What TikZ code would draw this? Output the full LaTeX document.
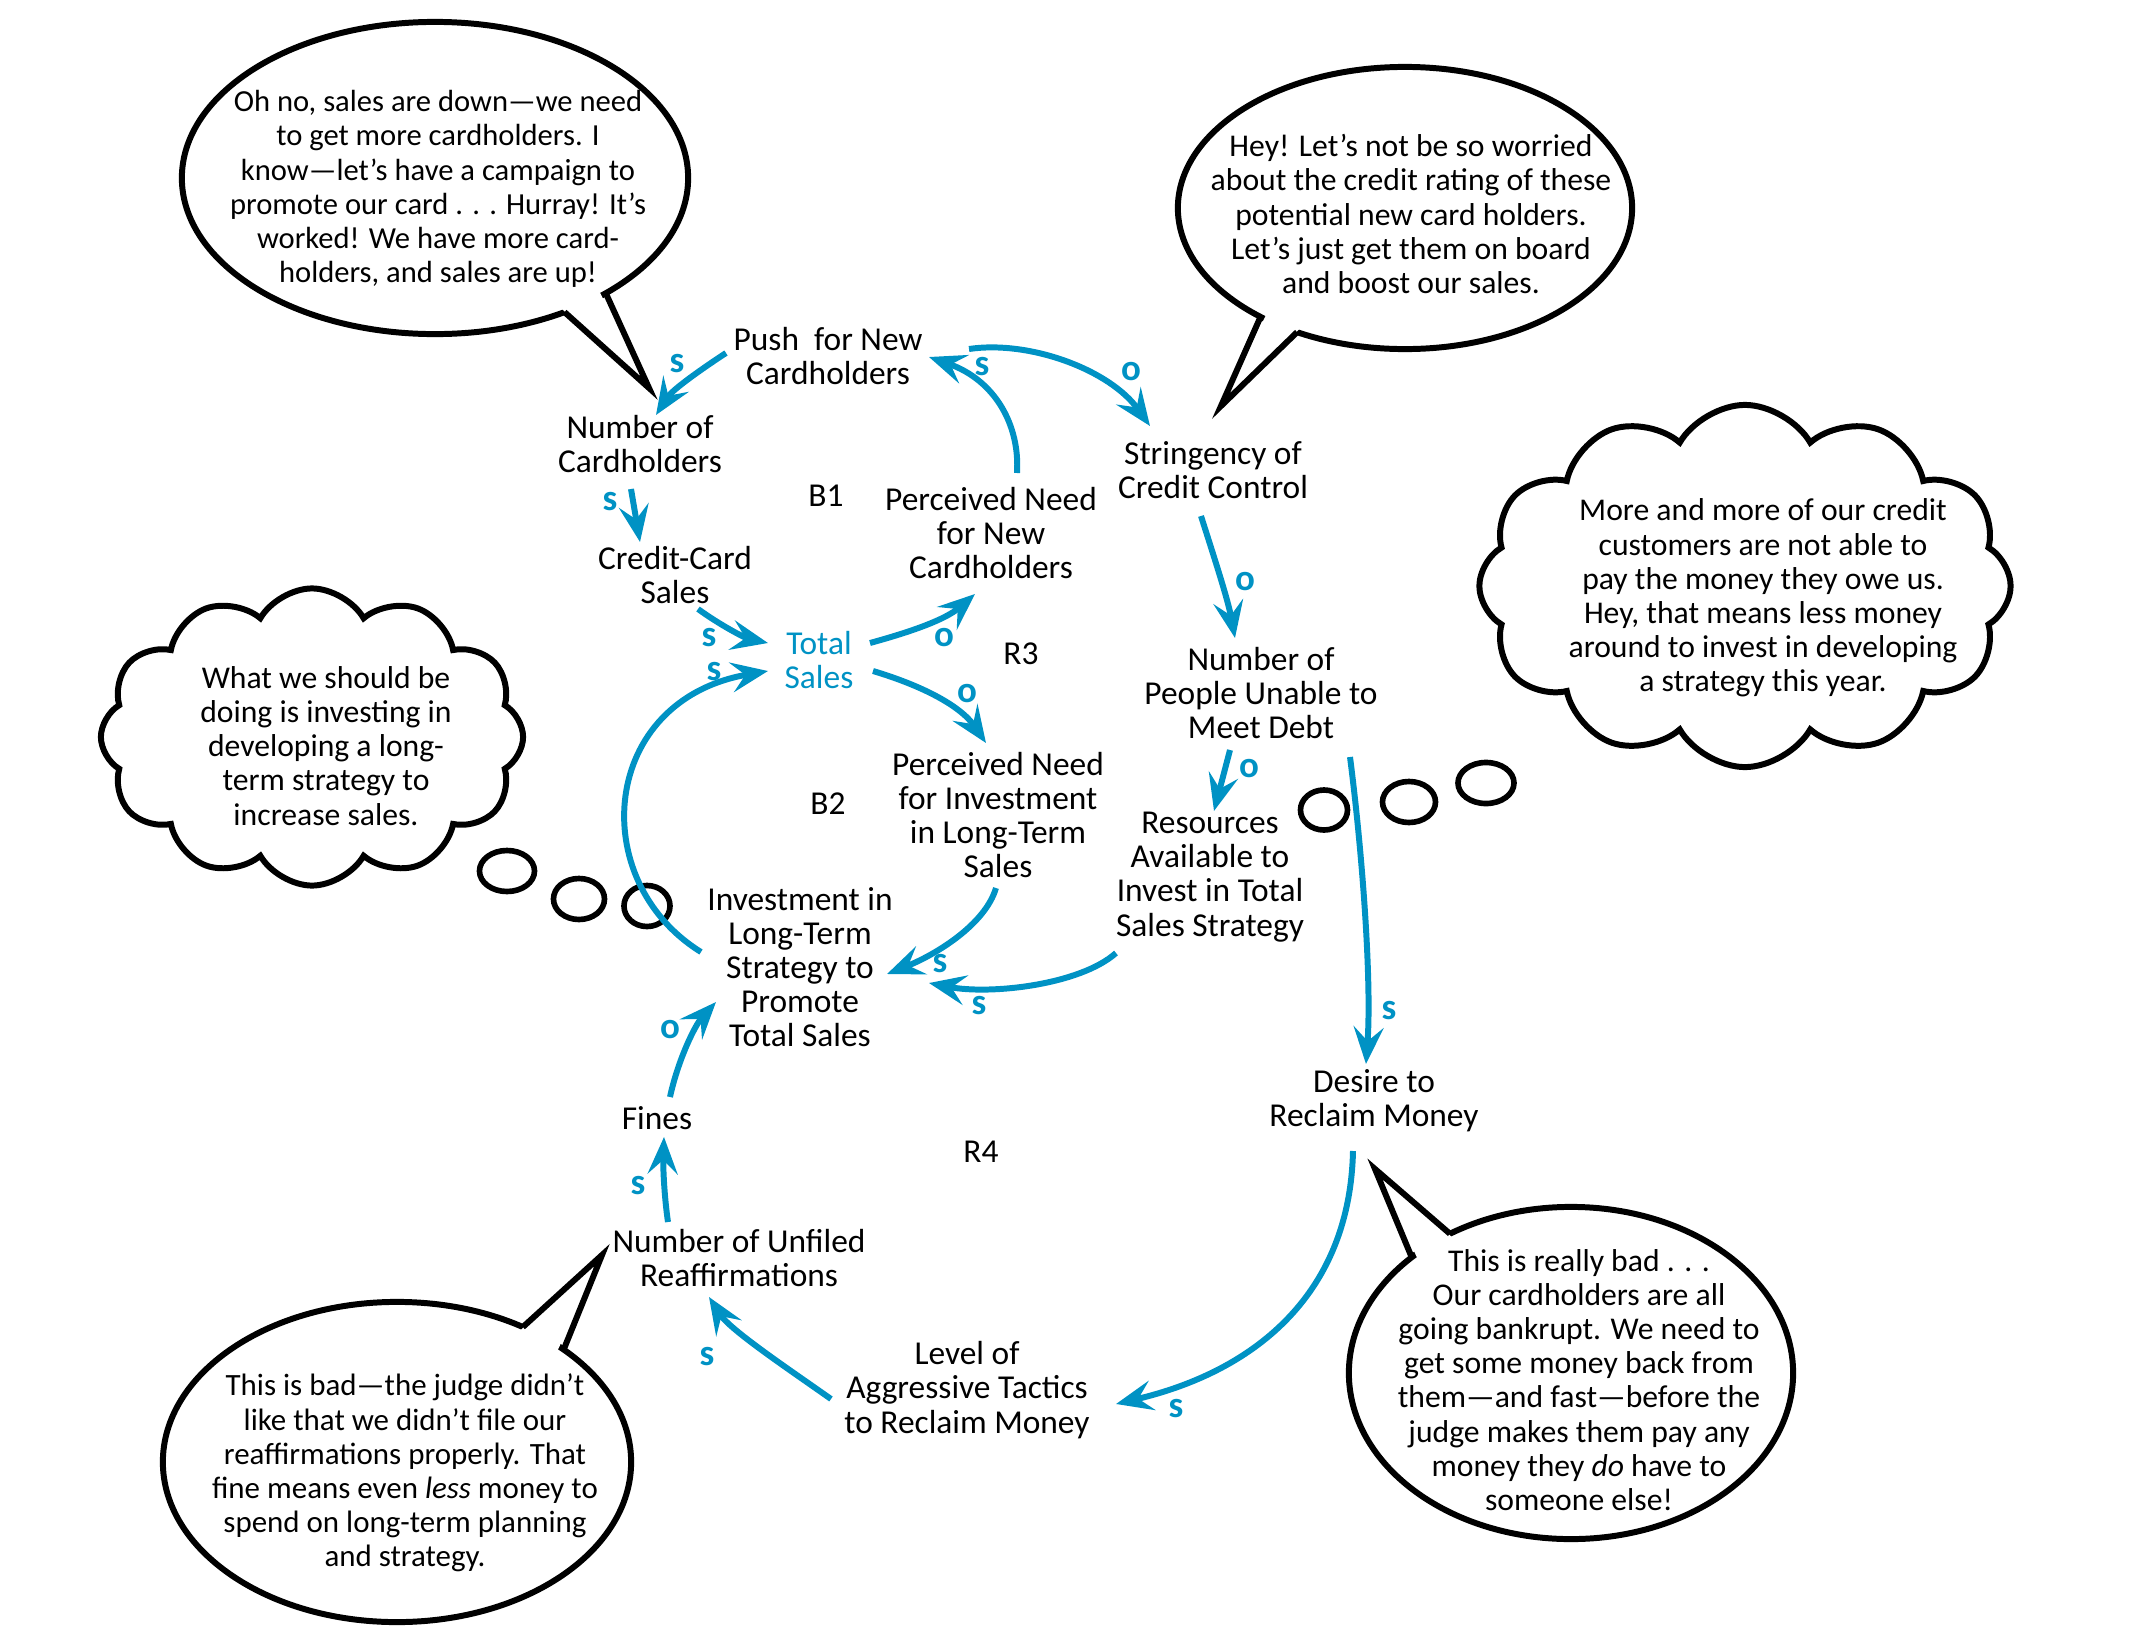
\documentclass[tikz,border=0pt]{standalone}
\usepackage{fontspec}
\setmainfont{Carlito}
\usetikzlibrary{arrows.meta,shapes.geometric,shapes.symbols,calc}
\definecolor{loopblue}{RGB}{0,146,196}
\begin{document}
\begin{tikzpicture}[x=0.01cm,y=-0.01cm,
  lbl/.style={font=\fontsize{9.5}{9.7}\selectfont, align=center, inner sep=0pt},
  var/.style={lbl, text=black},
  bluevar/.style={lbl, text=loopblue},
  pol/.style={font=\fontsize{10.5}{10.5}\selectfont\bfseries, text=loopblue, inner sep=0pt},
  link/.style={draw=loopblue, line width=1.7pt, -{Stealth[length=10.5pt,width=8.5pt,inset=4pt]}},
  bubble/.style={draw=black, line width=1.7pt, fill=white, ellipse, inner sep=0pt, outer sep=0pt},
  bubtext/.style={font=\fontsize{9}{9.7}\selectfont, align=center, inner sep=0pt, text=black},
  ring/.style={draw=black, line width=1.6pt, ellipse, inner sep=0pt, outer sep=0pt},
  thought/.style={draw=black, line width=1.7pt, fill=white, cloud, cloud puffs=12, cloud puff arc=120, cloud ignores aspect, inner sep=0pt, outer sep=0pt},
  tailline/.style={draw=black, line width=1.7pt, line join=miter}
]
\useasboundingbox (0,0) rectangle (2135,1651);

% ---------- speech bubbles ----------
\node[bubble, minimum width=5.06cm, minimum height=3.12cm] (bubA) at (435,178) {};
\coordinate (tipA) at (649,388);
\fill[white] ($(bubA.center)!0.95!(bubA.-46.8)$) -- (tipA) -- ($(bubA.center)!0.95!(bubA.-34.5)$) -- cycle;
\draw[tailline] (bubA.-46.8) -- (tipA) -- (bubA.-34.5);

\node[bubble, minimum width=4.54cm, minimum height=2.82cm] (bubB) at (1405,208) {};
\coordinate (tipB) at (1221,406);
\fill[white] ($(bubB.center)!0.95!(bubB.217.1)$) -- (tipB) -- ($(bubB.center)!0.95!(bubB.229.8)$) -- cycle;
\draw[tailline] (bubB.217.1) -- (tipB) -- (bubB.229.8);

\node[bubble, minimum width=4.44cm, minimum height=3.32cm] (bubE) at (1571,1373) {};
\coordinate (tipE) at (1375,1169);
\fill[white] ($(bubE.center)!0.95!(bubE.131.3)$) -- (tipE) -- ($(bubE.center)!0.95!(bubE.144.3)$) -- cycle;
\draw[tailline] (bubE.131.3) -- (tipE) -- (bubE.144.3);

\node[bubble, minimum width=4.68cm, minimum height=3.20cm] (bubF) at (397,1462) {};
\coordinate (tipF) at (602,1255);
\fill[white] ($(bubF.center)!0.95!(bubF.47.9)$) -- (tipF) -- ($(bubF.center)!0.95!(bubF.34.8)$) -- cycle;
\draw[tailline] (bubF.47.9) -- (tipF) -- (bubF.34.8);

% ---------- thought clouds ----------
\node[thought, minimum width=5.31cm, minimum height=3.62cm] (cloudC) at (1745,586) {};
\node[thought, minimum width=4.22cm, minimum height=2.97cm] (cloudD) at (312,737) {};

\node[ring, minimum width=0.55cm, minimum height=0.41cm] (d1) at (507,871) {};
\node[ring, minimum width=0.51cm, minimum height=0.41cm] (d2) at (579,899) {};
\node[ring, minimum width=0.46cm, minimum height=0.41cm] (d3) at (647,906) {};
\node[ring, minimum width=0.47cm, minimum height=0.40cm] (c1) at (1324,810) {};
\node[ring, minimum width=0.53cm, minimum height=0.41cm] (c2) at (1409,802) {};
\node[ring, minimum width=0.56cm, minimum height=0.41cm] (c3) at (1486,783) {};

% ---------- bubble texts ----------
\node[bubtext, font=\fontsize{8.7}{9.7}\selectfont] (tA) at (438,189) {Oh no, sales are down—we need\\to get more cardholders. I\\know—let’s have a campaign to\\promote our card . . . Hurray! It’s\\worked! We have more card-\\holders, and sales are up!};
\node[bubtext] (tB) at (1411,214) {Hey! Let’s not be so worried\\about the credit rating of these\\potential new card holders.\\Let’s just get them on board\\and boost our sales.};
\node[bubtext] (tC) at (1763,598) {More and more of our credit\\customers are not able to\\pay the money they owe us.\\Hey, that means less money\\around to invest in developing\\a strategy this year.};
\node[bubtext] (tD) at (326,746) {What we should be\\doing is investing in\\developing a long-\\term strategy to\\increase sales.};
\node[bubtext] (tE) at (1579,1380) {This is really bad . . .\\Our cardholders are all\\going bankrupt. We need to\\get some money back from\\them—and fast—before the\\judge makes them pay any\\money they \textit{do} have to\\someone else!};
\node[bubtext, font=\fontsize{8.8}{9.7}\selectfont] (tF) at (405,1473) {This is bad—the judge didn’t\\like that we didn’t file our\\reaffirmations properly. That\\fine means even \textit{less} money to\\spend on long-term planning\\and strategy.};

% ---------- variables ----------
\node[var] (push) at (828,356) {Push\ \ for New\\Cardholders};
\node[var] (numc) at (640,444) {Number of\\Cardholders};
\node[var] (ccs) at (675,575) {Credit-Card\\Sales};
\node[bluevar] (total) at (819,660) {Total\\Sales};
\node[var] (pnnc) at (991,533) {Perceived Need\\for New\\Cardholders};
\node[var] (scc) at (1213,470) {Stringency of\\Credit Control};
\node[var] (pum) at (1261,693) {Number of\\People Unable to\\Meet Debt};
\node[var] (pnil) at (998,815) {Perceived Need\\for Investment\\in Long-Term\\Sales};
\node[var] (res) at (1210,877) {Resources\\Available to\\Invest in Total\\Sales Strategy};
\node[var] (inv) at (800,967) {Investment in\\Long-Term\\Strategy to\\Promote\\Total Sales};
\node[var] (desire) at (1374,1101) {Desire to\\Reclaim Money};
\node[var] (fines) at (657,1118) {Fines};
\node[var] (unfiled) at (739,1258) {Number of Unfiled\\Reaffirmations};
\node[var] (level) at (967,1390) {Level of\\Aggressive Tactics\\to Reclaim Money};

\node[lbl] (b1) at (826,496) {B1};
\node[lbl] (r3) at (1021,654) {R3};
\node[lbl] (b2) at (828,804) {B2};
\node[lbl] (r4) at (981,1152) {R4};

% ---------- links ----------
\draw[link] ([shift={(-102,-3)}]push.center) .. controls (700,370) and (672,390) .. ([shift={(16,-29)}]numc.center);
\draw[link] ([shift={(-9,45)}]numc.center) -- ([shift={(0,98)}]numc.center);
\draw[link] ([shift={(23,34)}]ccs.center) .. controls (720,625) and (745,638) .. ([shift={(-51,-17)}]total.center);
\draw[link] ([shift={(51,-17)}]total.center) .. controls (910,632) and (945,620) .. ([shift={(-16,61)}]pnnc.center);
\draw[link] ([shift={(26,-60)}]pnnc.center) .. controls (1020,425) and (995,380) .. ([shift={(101,1)}]push.center);
\draw[link] ([shift={(141,-7)}]push.center) .. controls (1030,340) and (1110,370) .. ([shift={(-63,-44)}]scc.center);
\draw[link] ([shift={(-12,46)}]scc.center) .. controls (1215,560) and (1228,600) .. ([shift={(-26,-55)}]pum.center);
\draw[link] ([shift={(54,11)}]total.center) .. controls (920,685) and (960,705) .. ([shift={(-12,-72)}]pnil.center);
\draw[link] ([shift={(-2,73)}]pnil.center) .. controls (985,925) and (935,955) .. ([shift={(87,7)}]inv.center);
\draw[link] ([shift={(-94,76)}]res.center) .. controls (1080,985) and (990,995) .. ([shift={(129,16)}]inv.center);
\draw[link] ([shift={(-99,-15)}]inv.center) .. controls (585,880) and (600,700) .. ([shift={(-51,11)}]total.center);
\draw[link] ([shift={(-31,57)}]pum.center) -- ([shift={(4,-66)}]res.center);
\draw[link] ([shift={(89,64)}]pum.center) .. controls (1362,850) and (1372,980) .. ([shift={(-8,-37)}]desire.center);
\draw[link] ([shift={(-21,50)}]desire.center) .. controls (1350,1290) and (1260,1370) .. ([shift={(149,14)}]level.center);
\draw[link] ([shift={(-136,9)}]level.center) .. controls (790,1370) and (730,1330) .. ([shift={(-30,39)}]unfiled.center);
\draw[link] ([shift={(-71,-36)}]unfiled.center) .. controls (664,1195) and (663,1165) .. ([shift={(7,19)}]fines.center);
\draw[link] ([shift={(13,-21)}]fines.center) .. controls (678,1060) and (695,1025) .. ([shift={(-84,35)}]inv.center);

% ---------- polarity labels ----------
\node[pol] (p1) at (677,364) {s};
\node[pol] (p2) at (610,502) {s};
\node[pol] (p3) at (709,638) {s};
\node[pol] (p4) at (714,672) {s};
\node[pol] (p5) at (944,638) {o};
\node[pol] (p6) at (982,367) {s};
\node[pol] (p7) at (1131,372) {o};
\node[pol] (p8) at (1245,582) {o};
\node[pol] (p9) at (967,694) {o};
\node[pol] (p10) at (940,964) {s};
\node[pol] (p11) at (1249,769) {o};
\node[pol] (p12) at (979,1006) {s};
\node[pol] (p13) at (1389,1011) {s};
\node[pol] (p14) at (1176,1409) {s};
\node[pol] (p15) at (707,1357) {s};
\node[pol] (p16) at (638,1186) {s};
\node[pol] (p17) at (670,1030) {o};
\end{tikzpicture}
\end{document}
